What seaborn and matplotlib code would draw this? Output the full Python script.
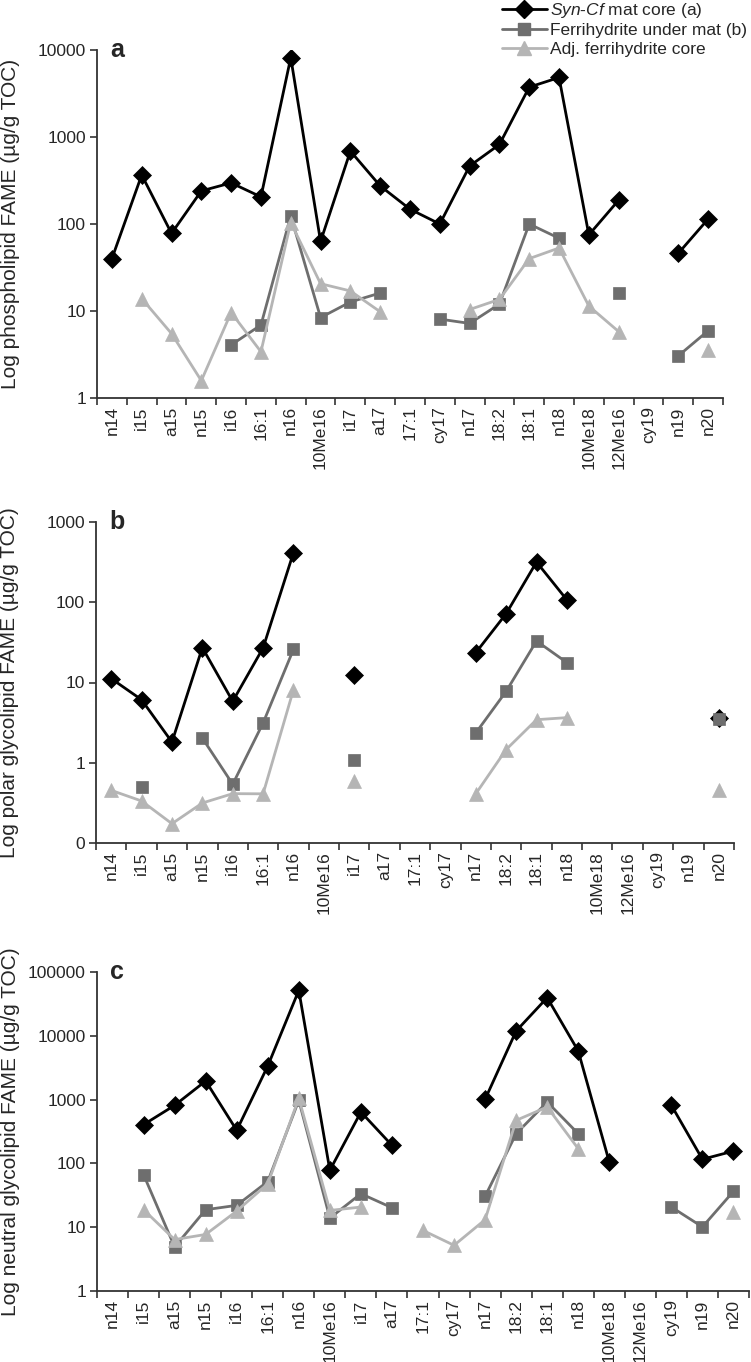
import numpy as np
import pandas as pd
import matplotlib
matplotlib.use("Agg")
import matplotlib.pyplot as plt
import seaborn as sns
from matplotlib.lines import Line2D
from matplotlib.ticker import FixedLocator, FixedFormatter, NullLocator

nan = np.nan

categories = ["n14", "i15", "a15", "n15", "i16", "16:1", "n16", "10Me16", "i17", "a17",
              "17:1", "cy17", "n17", "18:2", "18:1", "n18", "10Me18", "12Me16", "cy19",
              "n19", "n20"]

# Panel a: phospholipid FAME
mat_a = [40, 366, 78, 240, 297, 205, 8170, 63, 689, 274, 148, 100, 464, 821, 3742, 4830,
         75, 188, nan, 46, 114]
fer_a = [nan, nan, nan, nan, 4.07, 6.9, 124, 8.4, 12.7, 16.1, nan, 8.07, 7.2, 12.0, 100,
         68.6, nan, 16.1, nan, 3.05, 5.93]
adj_a = [nan, 13.9, 5.5, 1.58, 9.6, 3.4, 104, 20.6, 17, 9.8, nan, nan, 10.4, 13.6, 40, 53,
         11.4, 5.8, nan, nan, 3.57]

# Panel b: polar glycolipid FAME
mat_b = [11.2, 6.1, 1.81, 27.2, 5.83, 27, 415, nan, 12.5, nan, nan, nan, 23.5, 72, 317,
         107, nan, nan, nan, nan, 3.6]
fer_b = [nan, 0.5, nan, 2.03, 0.54, 3.13, 25.9, nan, 1.09, nan, nan, nan, 2.35, 7.76,
         32.9, 17.7, nan, nan, nan, nan, 3.47]
adj_b = [0.453, 0.334, 0.174, 0.315, 0.412, 0.41, 8.14, nan, 0.59, nan, nan, nan, 0.41,
         1.46, 3.44, 3.65, nan, nan, nan, nan, 0.453]

# Panel c: neutral glycolipid FAME
mat_c = [nan, 405, 813, 1958, 330, 3363, 51600, 78, 639, 192, nan, nan, 1010, 11900,
         39600, 5780, 105, nan, 813, 116, 156]
fer_c = [nan, 66.6, 4.9, 18.8, 22, 52, 975, 13.9, 33.5, 20.2, nan, nan, 30.5, 292, 917,
         292, nan, nan, 20.7, 10.1, 36.5]
adj_c = [nan, 18.8, 6.4, 7.7, 17.9, 48, 1050, 18.3, 20.7, nan, 8.9, 5.2, 13.1, 473, 766,
         170, nan, nan, nan, nan, 17.3]

series_names = ["Syn-Cf mat core (a)", "Ferrihydrite under mat (b)", "Adj. ferrihydrite core"]
legend_labels = [r"$\it{Syn}$-$\it{Cf}$ mat core (a)", "Ferrihydrite under mat (b)",
                 "Adj. ferrihydrite core"]

ylabels = ["Log phospholipid FAME (\u00b5g/g TOC)",
           "Log polar glycolipid FAME (\u00b5g/g TOC)",
           "Log neutral glycolipid FAME (\u00b5g/g TOC)"]
panel_letters = ["a", "b", "c"]
yticks_vals = [[1, 10, 100, 1000, 10000],
               [0.1, 1, 10, 100, 1000],
               [1, 10, 100, 1000, 10000, 100000]]
yticks_text = [["1", "10", "100", "1000", "10000"],
               ["0", "1", "10", "100", "1000"],
               ["1", "10", "100", "1000", "10000", "100000"]]

sns.set_style("ticks")
plt.rcParams["font.family"] = ["Liberation Sans", "DejaVu Sans"]
plt.rcParams["mathtext.fontset"] = "custom"
plt.rcParams["mathtext.rm"] = "Liberation Sans"
plt.rcParams["mathtext.it"] = "Liberation Sans:italic"

colors = ["#000000", "#6e6e6e", "#b5b5b5"]
markers = ["D", "s", "^"]
msizes = [9, 9, 10]

W, H = 751, 1362
fig = plt.figure(figsize=(W / 100, H / 100), dpi=100)

# axes boxes in pixels: left, right, top, bottom
boxes = [(97, 723, 50, 398), (96, 734, 522, 843), (97, 749, 972, 1291)]


def long_form(vals, name):
    rows = []
    seg = 0
    prev = False
    for i, v in enumerate(vals):
        if v is None or np.isnan(v):
            prev = False
            continue
        if not prev:
            seg += 1
        rows.append({"pos": i, "val": v, "seg": f"{name}-{seg}"})
        prev = True
    return pd.DataFrame(rows)


panels = [(mat_a, fer_a, adj_a), (mat_b, fer_b, adj_b), (mat_c, fer_c, adj_c)]
n = len(categories)

for k, (box, data) in enumerate(zip(boxes, panels)):
    l, r, t, b = box
    ax = fig.add_axes([l / W, 1 - b / H, (r - l) / W, (b - t) / H])
    for j, vals in enumerate(data):
        df = long_form(vals, series_names[j])
        sns.lineplot(data=df, x="pos", y="val", units="seg", estimator=None, sort=False,
                     color=colors[j], marker=markers[j], markersize=msizes[j],
                     markeredgecolor=colors[j], markeredgewidth=0.5, linewidth=2.0,
                     ax=ax, legend=False, zorder=3 + j)
    ax.set_yscale("log")
    ax.set_ylim(yticks_vals[k][0], yticks_vals[k][-1])
    ax.set_xlim(-0.5, n - 0.5)
    ax.yaxis.set_major_locator(FixedLocator(yticks_vals[k]))
    ax.yaxis.set_major_formatter(FixedFormatter(yticks_text[k]))
    ax.yaxis.set_minor_locator(NullLocator())
    ax.set_xticks(np.arange(-0.5, n, 1.0))
    ax.set_xticklabels([])
    ax.set_xticks(np.arange(n), minor=True)
    ax.set_xticklabels(categories, minor=True, rotation=90)
    ax.tick_params(axis="x", which="minor", length=0, pad=6, labelsize=12.5)
    ax.tick_params(axis="x", which="major", length=5, width=1.2, color="#333333")
    ax.tick_params(axis="y", which="major", length=5, width=1.2, color="#333333",
                   labelsize=12.5, pad=3)
    for s in ["left", "bottom"]:
        ax.spines[s].set_linewidth(1.3)
        ax.spines[s].set_color("#333333")
    for s in ["top", "right"]:
        ax.spines[s].set_visible(False)
    ax.set_xlabel("")
    ax.set_ylabel(ylabels[k], fontsize=15)
    ax.yaxis.set_label_coords(-77 / (r - l), 0.5)
    ax.text(13 / (r - l), 1.0, panel_letters[k], transform=ax.transAxes,
            fontsize=18, fontweight="bold", va="center", ha="left")

handles = [Line2D([0], [0], color=colors[j], marker=markers[j], markersize=msizes[j],
                  markeredgecolor=colors[j], linewidth=2.0) for j in range(3)]
fig.legend(handles, legend_labels, loc="upper right", bbox_to_anchor=(748 / W, 1.0),
           frameon=False, fontsize=12.5, handlelength=2.6, handletextpad=0.2,
           labelspacing=0.2, borderaxespad=0.0, borderpad=0.05)

fig.savefig("out.png", dpi=100)
